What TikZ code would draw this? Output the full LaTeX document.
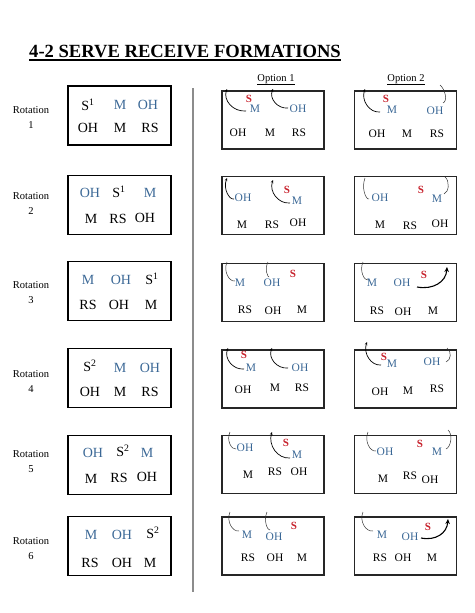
\documentclass[tikz,border=0pt]{standalone}
\usepackage{fontspec}
\setmainfont{Liberation Serif}
\usetikzlibrary{arrows.meta}
\definecolor{bl}{HTML}{3B6896}
\definecolor{rd}{HTML}{C61F2A}
\newcommand\arcL[4]{\draw[arcstyle] (#1,#2) .. controls ({#3+0.3*(#1-#3)},{#2+1}) and ({min(#1,#3)-4},{#4+0.5*(#2-#4)}) .. (#3,#4);}
\newcommand\arcLn[4]{\draw[arcthin] (#1,#2) .. controls ({#3+0.3*(#1-#3)},{#2+1}) and ({min(#1,#3)-4},{#4+0.5*(#2-#4)}) .. (#3,#4);}
\newcommand\arcR[4]{\draw[arcthin] (#1,#2) .. controls ({#1+5},{#2-2}) and ({#3+5},{#4+4}) .. (#3,#4);}
\tikzset{
  lbox/.style={draw, line width=1.3pt, minimum width=103pt, minimum height=59pt, inner sep=0pt},
  obox/.style={draw=black!85, line width=1.6pt, minimum width=102pt, minimum height=58pt, inner sep=0pt},
  big/.style={inner sep=0pt, font=\fontsize{14}{16}\selectfont},
  bigb/.style={big, text=bl},
  sm/.style={inner sep=0pt, font=\fontsize{11.5}{13}\selectfont},
  smb/.style={sm, text=bl},
  ss/.style={inner sep=0pt, font=\fontsize{11}{12}\selectfont\bfseries, text=rd},
  rot/.style={align=center, inner sep=0pt, font=\fontsize{10.5}{15}\selectfont},
  arcstyle/.style={line width=0.7pt, -{Stealth[length=3pt,width=2.6pt]}},
  arcthin/.style={line width=0.5pt, black!80},
  bigarr/.style={line width=1.1pt, -{Stealth[length=5pt,width=4.5pt]}}
}
\begin{document}
\begin{tikzpicture}[x=1pt,y=-1pt]
\useasboundingbox (0,0) rectangle (474,613);
% title
\node[inner sep=0pt, anchor=base west, font=\fontsize{18.6}{20}\selectfont\bfseries] (title) at (29,57) {4-2 SERVE RECEIVE FORMATIONS};
\draw[line width=1.4pt] ([yshift=-3pt]title.base west) -- ([yshift=-3pt]title.base east);
\node[inner sep=0pt, anchor=base, font=\fontsize{10.5}{12}\selectfont] (op1) at (276,81) {\underline{Option 1}};
\node[inner sep=0pt, anchor=base, font=\fontsize{10.5}{12}\selectfont] (op2) at (406,81) {\underline{Option 2}};
% divider
\draw[black!45, line width=1.8pt] (193,88) coordinate (dv1) -- (193,592) coordinate (dv2);
% rotation labels
\node[rot] (r1) at (31,118) {Rotation\\1};
\node[rot] (r2) at (31,204) {Rotation\\2};
\node[rot] (r3) at (31,293) {Rotation\\3};
\node[rot] (r4) at (31,382) {Rotation\\4};
\node[rot] (r5) at (31,462) {Rotation\\5};
\node[rot] (r6) at (31,549) {Rotation\\6};
% left boxes
\node[lbox] (L1) at (119.5,115.5) {};
\node[lbox] (L2) at (119.5,205) {};
\node[lbox] (L3) at (119.5,291) {};
\node[lbox] (L4) at (119.5,378) {};
\node[lbox] (L5) at (119.5,465) {};
\node[lbox] (L6) at (119.5,546) {};
% rotation 1
\node[big] (l1a) at (88,105) {S\textsuperscript{1}};
\node[bigb] (l1b) at (120,105) {M};
\node[bigb] (l1c) at (148,105) {OH};
\node[big] (l1d) at (88,128) {OH};
\node[big] (l1e) at (120,128) {M};
\node[big] (l1f) at (150,128) {RS};
% rotation 2
\node[bigb] (l2a) at (90,193) {OH};
\node[big] (l2b) at (119,192) {S\textsuperscript{1}};
\node[bigb] (l2c) at (150,193) {M};
\node[big] (l2d) at (91,219) {M};
\node[big] (l2e) at (118,219) {RS};
\node[big] (l2f) at (145,218) {OH};
% rotation 3
\node[bigb] (l3a) at (88,280) {M};
\node[bigb] (l3b) at (121,280) {OH};
\node[big] (l3c) at (152,279) {S\textsuperscript{1}};
\node[big] (l3d) at (88,305) {RS};
\node[big] (l3e) at (119,305) {OH};
\node[big] (l3f) at (151,305) {M};
% rotation 4
\node[big] (l4a) at (90,366) {S\textsuperscript{2}};
\node[bigb] (l4b) at (120,368) {M};
\node[bigb] (l4c) at (150,368) {OH};
\node[big] (l4d) at (90,392) {OH};
\node[big] (l4e) at (120,392) {M};
\node[big] (l4f) at (150,392) {RS};
% rotation 5
\node[bigb] (l5a) at (93,453) {OH};
\node[big] (l5b) at (123,451) {S\textsuperscript{2}};
\node[bigb] (l5c) at (147,453) {M};
\node[big] (l5d) at (91,479) {M};
\node[big] (l5e) at (119,478) {RS};
\node[big] (l5f) at (147,477) {OH};
% rotation 6
\node[bigb] (l6a) at (91,535) {M};
\node[bigb] (l6b) at (122,535) {OH};
\node[big] (l6c) at (153,533) {S\textsuperscript{2}};
\node[big] (l6d) at (90,563) {RS};
\node[big] (l6e) at (122,563) {OH};
\node[big] (l6f) at (150,563) {M};
% option boxes
\node[obox] (A1) at (273,120) {};   \node[obox] (B1) at (405.5,120) {};
\node[obox] (A2) at (273,205.5) {}; \node[obox] (B2) at (405.5,205.5) {};
\node[obox] (A3) at (273,292.5) {}; \node[obox] (B3) at (405.5,292.5) {};
\node[obox] (A4) at (273,379) {};   \node[obox] (B4) at (405.5,379) {};
\node[obox] (A5) at (273,464.5) {}; \node[obox] (B5) at (405.5,464.5) {};
\node[obox] (A6) at (273,546) {};   \node[obox] (B6) at (405.5,546) {};
% ---- row 1
\node[ss] (a1s) at (249,99) {S};
\node[smb] (a1m) at (255,109) {M};
\node[smb] (a1o) at (298,109) {OH};
\node[sm] (a1d) at (238,133) {OH};
\node[sm] (a1e) at (270,133) {M};
\node[sm] (a1f) at (299,133) {RS};
\arcL{246}{111}{227}{89}
\arcL{288}{108}{273}{89}
\node[ss] (b1s) at (386,99) {S};
\node[smb] (b1m) at (392,110) {M};
\node[smb] (b1o) at (435,111) {OH};
\node[sm] (b1d) at (377,134) {OH};
\node[sm] (b1e) at (407,134) {M};
\node[sm] (b1f) at (437,134) {RS};
\arcL{380}{112}{365}{89}
\arcR{443}{103}{440}{85}
% ---- row 2
\node[smb] (a2o) at (243,198) {OH};
\node[ss] (a2s) at (287,190) {S};
\node[smb] (a2m) at (297,201) {M};
\node[sm] (a2d) at (242,225) {M};
\node[sm] (a2e) at (272,225) {RS};
\node[sm] (a2f) at (298,223) {OH};
\arcL{234}{199}{227}{178}
\arcL{290}{203}{273}{180}
\node[smb] (b2o) at (380,198) {OH};
\node[ss] (b2s) at (421,190) {S};
\node[smb] (b2m) at (437,199) {M};
\node[sm] (b2d) at (380,225) {M};
\node[sm] (b2e) at (410,226) {RS};
\node[sm] (b2f) at (440,224) {OH};
\arcLn{369}{199}{365}{178}
\arcR{444}{194}{445}{177}
% ---- row 3
\node[smb] (a3m) at (240,283) {M};
\node[smb] (a3o) at (272,283) {OH};
\node[ss] (a3s) at (293,274) {S};
\node[sm] (a3d) at (245,310) {RS};
\node[sm] (a3e) at (273,311) {OH};
\node[sm] (a3f) at (302,310) {M};
\arcLn{235}{281}{227}{262}
\arcLn{269}{277}{268}{262}
\node[smb] (b3m) at (372,283) {M};
\node[smb] (b3o) at (402,283) {OH};
\node[ss] (b3s) at (424,275) {S};
\node[sm] (b3d) at (377,311) {RS};
\node[sm] (b3e) at (403,312) {OH};
\node[sm] (b3f) at (433,311) {M};
\arcLn{368}{280}{363}{262}
\draw[bigarr] (417,287) .. controls (433,290) and (446,282) .. (447,267);
% ---- row 4
\node[ss] (a4s) at (244,355) {S};
\node[smb] (a4m) at (251,368) {M};
\node[smb] (a4o) at (300,368) {OH};
\node[sm] (a4d) at (243,390) {OH};
\node[sm] (a4e) at (275,388) {M};
\node[sm] (a4f) at (302,388) {RS};
\arcL{244}{369}{228}{348}
\arcL{288}{368}{272}{348}
\node[ss] (b4s) at (384,357) {S};
\node[smb] (b4m) at (392,364) {M};
\node[smb] (b4o) at (432,362) {OH};
\node[sm] (b4d) at (380,392) {OH};
\node[sm] (b4e) at (408,391) {M};
\node[sm] (b4f) at (437,389) {RS};
\arcL{381}{365}{367}{342}
\arcR{446}{362}{447}{348}
% ---- row 5
\node[smb] (a5o) at (245,448) {OH};
\node[ss] (a5s) at (286,443) {S};
\node[smb] (a5m) at (297,455) {M};
\node[sm] (a5d) at (248,475) {M};
\node[sm] (a5e) at (275,472) {RS};
\node[sm] (a5f) at (299,472) {OH};
\arcLn{236}{449}{230}{432}
\arcL{290}{458}{272}{432}
\node[smb] (b5o) at (385,452) {OH};
\node[ss] (b5s) at (420,444) {S};
\node[smb] (b5m) at (437,452) {M};
\node[sm] (b5d) at (383,479) {M};
\node[sm] (b5e) at (410,476) {RS};
\node[sm] (b5f) at (430,480) {OH};
\arcLn{376}{451}{368}{432}
\arcR{446}{449}{448}{430}
% ---- row 6
\node[smb] (a6m) at (247,535) {M};
\node[smb] (a6o) at (274,537) {OH};
\node[ss] (a6s) at (294,526) {S};
\node[sm] (a6d) at (248,558) {RS};
\node[sm] (a6e) at (275,558) {OH};
\node[sm] (a6f) at (302,558) {M};
\arcLn{239}{531}{230}{512}
\arcLn{270}{530}{267}{512}
\node[smb] (b6m) at (382,535) {M};
\node[smb] (b6o) at (410,537) {OH};
\node[ss] (b6s) at (428,527) {S};
\node[sm] (b6d) at (380,558) {RS};
\node[sm] (b6e) at (403,558) {OH};
\node[sm] (b6f) at (432,558) {M};
\arcLn{373}{531}{363}{512}
\draw[bigarr] (421,538) .. controls (436,541) and (447,533) .. (448,519);
\end{tikzpicture}
\end{document}
